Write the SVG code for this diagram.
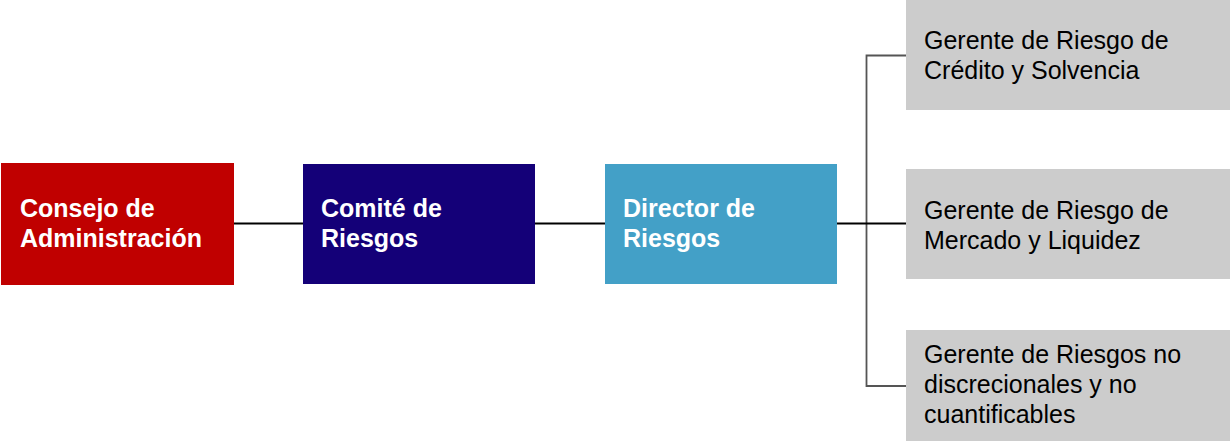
<svg xmlns="http://www.w3.org/2000/svg" width="1230" height="441" viewBox="0 0 1230 441">
<style>
.lbl{font-family:"Liberation Sans",Arial,sans-serif;font-size:25px;}
.b{font-weight:bold;fill:#ffffff;}
.g{fill:#000000;}
.conn{fill:none;stroke-width:1.8;}
</style>
<rect width="1230" height="441" fill="#ffffff"/>
<g id="connectors">
<line class="conn" stroke="#000" x1="234" y1="223.5" x2="303" y2="223.5"/>
<line class="conn" stroke="#000" x1="535" y1="223.5" x2="605" y2="223.5"/>
<path class="conn" stroke="#555" d="M906 55.5 H866.5 V386 H909"/>
<line class="conn" stroke="#000" x1="837" y1="223.5" x2="907" y2="223.5"/>
</g>
<g id="consejo">
<rect x="1" y="163" width="233" height="122" fill="#c00000"/>
<text class="lbl b"><tspan x="20" y="217">Consejo de</tspan><tspan x="20" y="247">Administración</tspan></text>
</g>
<g id="comite">
<rect x="303" y="164" width="232" height="120" fill="#140078"/>
<text class="lbl b"><tspan x="321" y="217">Comité de</tspan><tspan x="321" y="247">Riesgos</tspan></text>
</g>
<g id="director">
<rect x="605" y="164" width="232" height="120" fill="#43a0c7"/>
<text class="lbl b"><tspan x="623" y="217">Director de</tspan><tspan x="623" y="247">Riesgos</tspan></text>
</g>
<g id="gerente1">
<rect x="906" y="0" width="324" height="110" fill="#cccccc"/>
<text class="lbl g"><tspan x="924" y="49">Gerente de Riesgo de</tspan><tspan x="924" y="79">Crédito y Solvencia</tspan></text>
</g>
<g id="gerente2">
<rect x="906" y="169" width="324" height="110" fill="#cccccc"/>
<text class="lbl g"><tspan x="924" y="219">Gerente de Riesgo de</tspan><tspan x="924" y="249">Mercado y Liquidez</tspan></text>
</g>
<g id="gerente3">
<rect x="906" y="330" width="324" height="111" fill="#cccccc"/>
<text class="lbl g"><tspan x="924" y="363">Gerente de Riesgos no</tspan><tspan x="924" y="393">discrecionales y no</tspan><tspan x="924" y="423">cuantificables</tspan></text>
</g>
</svg>
